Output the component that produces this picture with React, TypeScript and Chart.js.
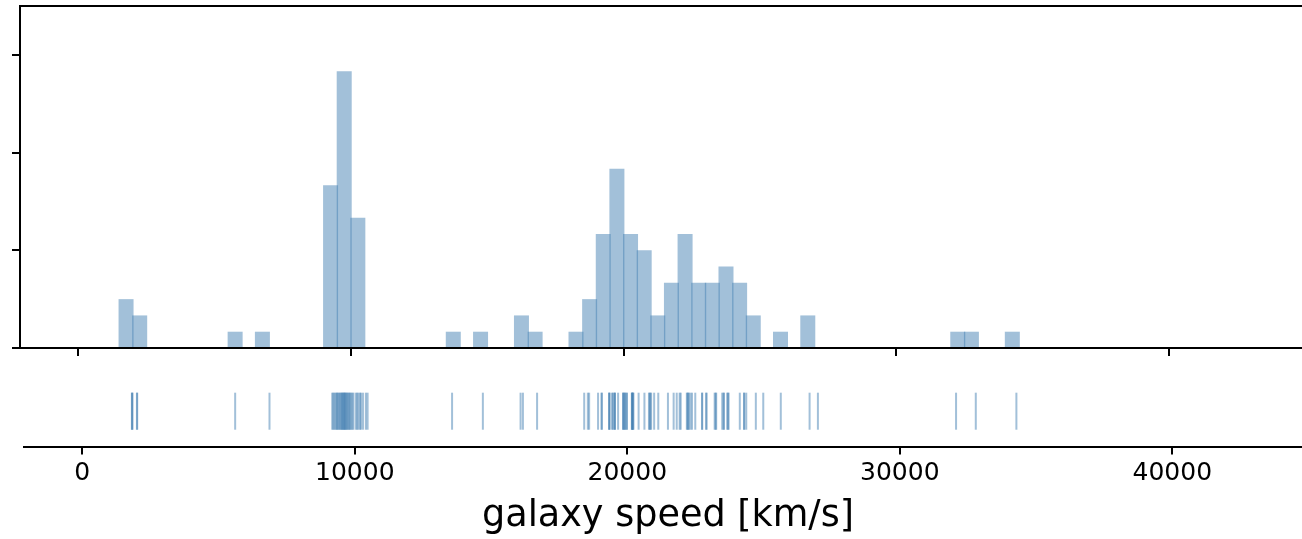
import React, { useEffect, useRef } from 'react';
import { Chart, registerables } from 'chart.js';

Chart.register(...registerables);

// ---- data ----
const BIN_WIDTH = 500;
const BIN_STARTS = [
  1500, 2000, 5500, 6500, 9000, 9500, 10000, 13500, 14500, 16000, 16500,
  18000, 18500, 19000, 19500, 20000, 20500, 21000, 21500, 22000, 22500,
  23000, 23500, 24000, 24500, 25500, 26500, 32000, 32500, 34000,
];
const BIN_COUNTS = [
  3, 2, 1, 1, 10, 17, 8, 1, 1, 2, 1,
  1, 3, 7, 11, 7, 6, 2, 4, 7, 4,
  4, 5, 4, 2, 1, 2, 1, 1, 1,
];
const SPEEDS = [
  1820, 1830, 1840, 2005, 2015,
  5610, 6870,
  9172, 9210, 9250, 9290, 9330, 9350, 9380, 9420, 9450, 9483,
  9510, 9530, 9558, 9580, 9600, 9620, 9640, 9660, 9690, 9710, 9740, 9775, 9800, 9830, 9870, 9910, 9950,
  10040, 10090, 10130, 10190, 10227, 10300, 10406, 10470,
  13570, 14700, 16084, 16170, 16690,
  18419, 18552, 18600, 18927, 19052, 19070, 19330, 19343, 19349, 19440, 19473,
  19529, 19541, 19547, 19663, 19846, 19856, 19863, 19914, 19918, 19973, 19989,
  20166, 20175, 20179, 20196, 20215, 20221, 20415, 20629, 20795, 20821, 20846,
  20875, 20986, 21137, 21492, 21701, 21814, 21921, 21960, 22185, 22209, 22242,
  22249, 22314, 22374, 22495, 22746, 22747, 22888, 22914, 23206, 23241, 23263,
  23484, 23538, 23542, 23666, 23706, 23711, 24129, 24285, 24289, 24366, 24717,
  24990, 25633, 26690, 26995, 32065, 32789, 34279,
];
const X_TICKS = [0, 10000, 20000, 30000, 40000];
const Y_TICKS = [0, 6, 12, 18];
const Y_MAX = 21;
const X_MIN = -2139;
const X_MAX_TOP = 45093;
const X_MAX_BOTTOM = 45127;
const RUG_Y_MIN = -1;
const RUG_Y_MAX = 1.62;
const X_LABEL = 'galaxy speed [km/s]';

const FONT = "'DejaVu Sans', sans-serif";
const BAR_COLOR = 'rgba(70,130,180,0.5)';
const RUG_COLOR = 'rgba(70,130,180,0.5)';

const fixedTicks = (vals: number[]) => (scale: any) => {
  scale.ticks = vals.map((v) => ({ value: v }));
};

const spineGrid = {
  display: true,
  drawOnChartArea: false,
  drawTicks: true,
  tickLength: 8,
  color: '#000',
  lineWidth: 2,
  offset: false,
};
const spineBorder = { display: true, color: '#000', width: 2 };

export default function App() {
  const topRef = useRef<HTMLCanvasElement>(null);
  const botRef = useRef<HTMLCanvasElement>(null);

  useEffect(() => {
    Chart.defaults.font.family = FONT;
    Chart.defaults.color = '#000';

    const top = new Chart(topRef.current as HTMLCanvasElement, {
      type: 'bar',
      data: {
        datasets: [
          {
            data: BIN_STARTS.map((s, i) => ({ x: s + BIN_WIDTH / 2, y: BIN_COUNTS[i] })),
            backgroundColor: BAR_COLOR,
            borderWidth: 0,
            barPercentage: 1,
            categoryPercentage: 1.1,
          } as any,
        ],
      },
      options: {
        animation: false,
        responsive: false,
        devicePixelRatio: 1,
        events: [],
        layout: { padding: { left: 12, top: 6, right: 0, bottom: 4 }, autoPadding: false },
        plugins: { legend: { display: false }, tooltip: { enabled: false } },
        scales: {
          x: {
            type: 'linear',
            min: X_MIN,
            max: X_MAX_TOP,
            offset: false,
            z: 1,
            afterBuildTicks: fixedTicks(X_TICKS),
            grid: spineGrid,
            border: spineBorder,
            ticks: { display: false },
          },
          x2: {
            type: 'linear',
            position: 'top',
            min: X_MIN,
            max: X_MAX_TOP,
            z: 1,
            grid: { display: false, drawTicks: false, tickLength: 0 },
            border: spineBorder,
            ticks: { display: false, padding: 0 },
          },
          y: {
            type: 'linear',
            min: 0,
            max: Y_MAX,
            z: 1,
            afterBuildTicks: fixedTicks(Y_TICKS),
            grid: spineGrid,
            border: spineBorder,
            ticks: { display: false },
          },
        },
      } as any,
    });

    const bot = new Chart(botRef.current as HTMLCanvasElement, {
      type: 'scatter',
      data: {
        datasets: [
          {
            data: SPEEDS.map((v) => ({ x: v, y: 0 })),
            pointStyle: 'line',
            rotation: 90,
            radius: 18.5,
            borderColor: RUG_COLOR,
            backgroundColor: RUG_COLOR,
            borderWidth: 2,
            clip: false,
          } as any,
        ],
      },
      options: {
        animation: false,
        responsive: false,
        devicePixelRatio: 1,
        events: [],
        layout: { padding: { left: 24, top: 14, right: 0, bottom: 0 }, autoPadding: false },
        plugins: { legend: { display: false }, tooltip: { enabled: false } },
        scales: {
          x: {
            type: 'linear',
            min: X_MIN,
            max: X_MAX_BOTTOM,
            z: 1,
            afterBuildTicks: fixedTicks(X_TICKS),
            grid: spineGrid,
            border: spineBorder,
            ticks: {
              color: '#000',
              font: { size: 25, family: FONT },
              padding: 4,
              maxRotation: 0,
              autoSkip: false,
              callback: (v: any) => String(v),
            },
            title: {
              display: true,
              text: X_LABEL,
              color: '#000',
              font: { size: 36.6, family: FONT },
              padding: { top: 5.08, bottom: 1 },
            },
          },
          y: { display: false, min: RUG_Y_MIN, max: RUG_Y_MAX },
        },
      } as any,
    });

    return () => {
      top.destroy();
      bot.destroy();
    };
  }, []);

  return (
    <div
      style={{
        position: 'absolute',
        left: 0,
        top: 0,
        width: 1302,
        height: 539,
        overflow: 'hidden',
        background: '#fff',
      }}
    >
      <canvas
        ref={topRef}
        width={1308}
        height={360}
        style={{ position: 'absolute', left: 0, top: 0, width: 1308, height: 360 }}
      />
      <canvas
        ref={botRef}
        width={1312}
        height={199}
        style={{ position: 'absolute', left: 0, top: 340, width: 1312, height: 199 }}
      />
    </div>
  );
}
